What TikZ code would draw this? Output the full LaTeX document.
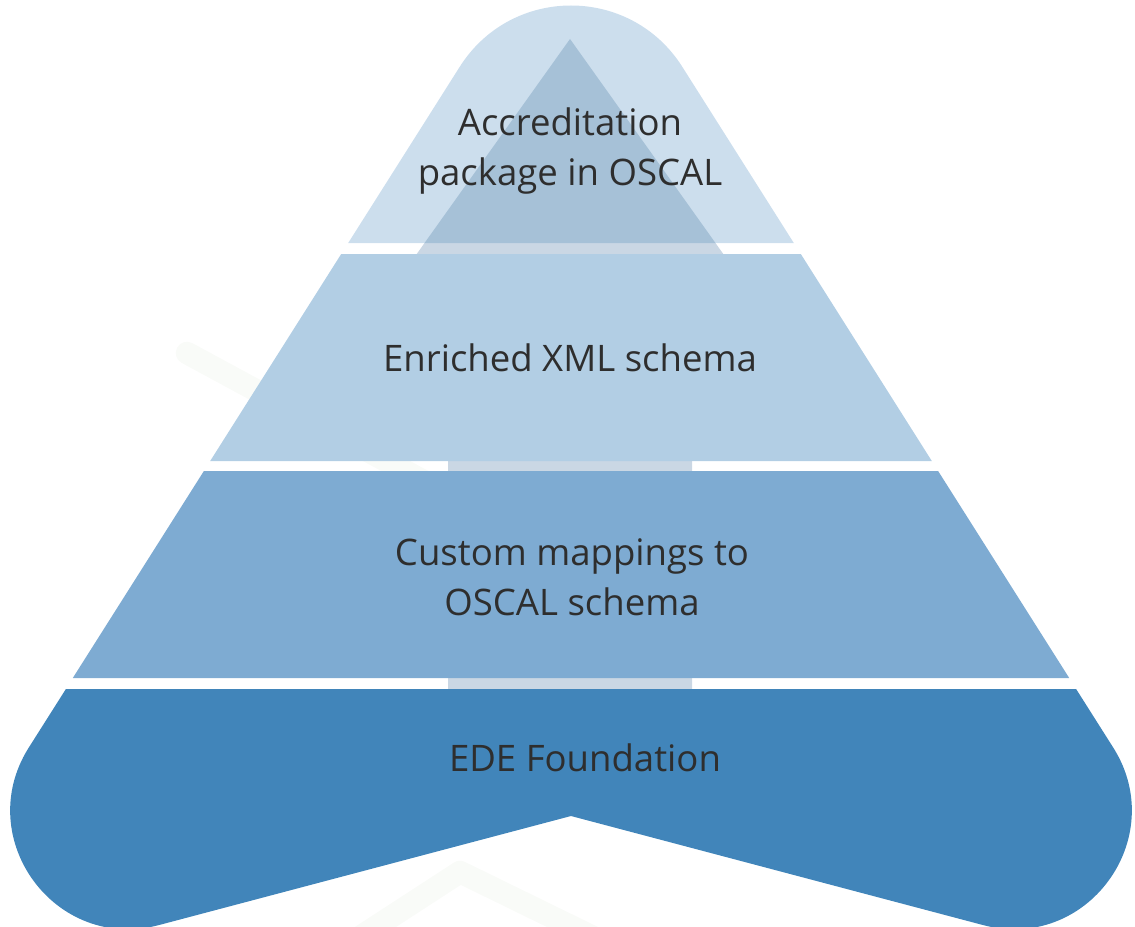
\documentclass[tikz,border=0pt]{standalone}
\usepackage{fontspec}
\setmainfont{Open Sans}
\usepackage{xcolor}
\usepackage{tikz}
\definecolor{tierone}{HTML}{CCDEED}
\definecolor{tiertwo}{HTML}{B2CEE4}
\definecolor{tierthree}{HTML}{7EABD2}
\definecolor{tierfour}{HTML}{4185BA}
\definecolor{arrowgrey}{HTML}{CAD7E4}
\definecolor{arrowshade}{HTML}{A6C1D7}
\definecolor{labelgrey}{HTML}{2E2E2E}
\definecolor{watermark}{HTML}{F9FBF8}
\usetikzlibrary{positioning}

\begin{document}
\begin{tikzpicture}[
    x=0.02cm, y=-0.02cm,
    tiertext/.style={text=labelgrey, align=center, inner sep=0pt, font=\fontsize{20.8}{28.5}\selectfont},
    faint/.style={draw=watermark, line width=0.45cm, line cap=round, line join=round}
]
    \useasboundingbox (0,0) rectangle (1135,926);
    % faint strokes in the background
    \draw[faint] (187,353) -- (440,490);
    \draw[faint] (340,950) -- (460,872) -- (640,960);
    % arrow behind the tiers
    \fill[arrowgrey] (570,39) -- (724,255) -- (692,255) -- (692,692) -- (448,692) -- (448,255) -- (416,255) -- cycle;
    % top tier with the arrow head showing through
    \fill[tierone] (348.2,243) -- (459.6,67) .. controls (511.4,-15) and (630.6,-15) .. (682.4,67) -- (793.8,243) -- cycle;
    \begin{scope}
        \clip (348.2,243) -- (459.6,67) .. controls (511.4,-15) and (630.6,-15) .. (682.4,67) -- (793.8,243) -- cycle;
        \fill[arrowshade] (570,39) -- (724,255) -- (416,255) -- cycle;
    \end{scope}
    % middle tiers
    \fill[tiertwo] (341.2,254) -- (800.8,254) -- (931.8,461) -- (210.2,461) -- cycle;
    \fill[tierthree] (203.9,471) -- (938.1,471) -- (1069.2,678) -- (72.8,678) -- cycle;
    % foundation with rounded feet
    \fill[tierfour] (65.9,689) -- (28.2,748.5) .. controls (-27.9,838.9) and (55.4,952.5) .. (158.8,925.1)
        -- (571,816) -- (983.2,925.1) .. controls (1086.6,952.5) and (1169.9,838.9) .. (1113.8,748.5)
        -- (1076.1,689) -- cycle;
    % texts
    \node[tiertext] (accreditation) at (570,151) {Accreditation\\package in OSCAL};
    \node[tiertext] (enriched) at (570,358) {Enriched XML schema};
    \node[tiertext] (mappings) at (572,577) {Custom mappings to\\OSCAL schema};
    \node[tiertext] (foundation) at (585,758) {EDE Foundation};
\end{tikzpicture}
\end{document}
